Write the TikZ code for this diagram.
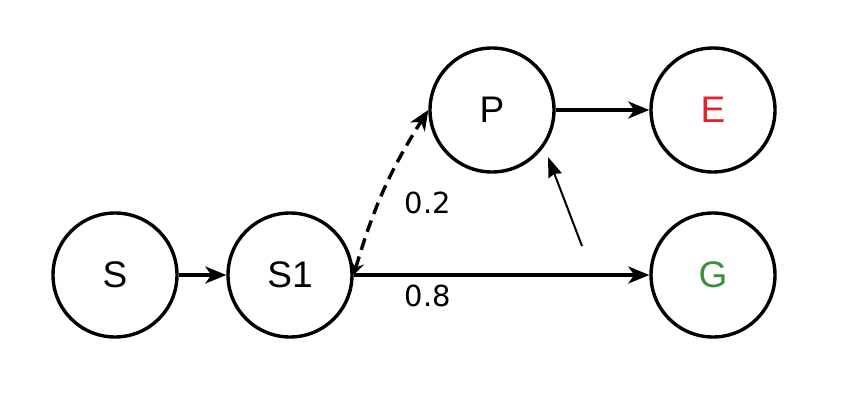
\documentclass[tikz,border=0pt]{standalone}
\usepackage{fontspec}
\setmainfont{Liberation Sans}
\newfontfamily\lblfont{DejaVu Sans}
\usetikzlibrary{arrows.meta}
\definecolor{ered}{HTML}{E4222A}
\definecolor{ggreen}{HTML}{3A8F40}
\begin{document}
\begin{tikzpicture}[x=1pt,y=-1pt,
  state/.style={circle,draw,line width=3.4pt,minimum size=124pt,inner sep=0pt,font=\fontsize{37}{40}\selectfont},
  conn/.style={line width=3.4pt,-{Stealth[length=21pt,width=17pt,inset=6pt]}},
  lbl/.style={font=\lblfont\fontsize{29}{32}\selectfont}]
\useasboundingbox (0,0) rectangle (860,402);
\node[state] (S) at (115,275) {S};
\node[state] (S1) at (290,275) {S1};
\node[state] (P) at (492,110) {P};
\node[state] (E) at (713,110) {\textcolor{ered}{E}};
\node[state] (G) at (713,275) {\textcolor{ggreen}{G}};
\draw[conn] (S) -- (S1);
\draw[conn] (P) -- (E);
\draw[conn] (S1.east) -- (G.west);
\draw[line width=3.4pt,dash pattern=on 12pt off 7pt,
  {Stealth[length=13pt,width=14pt,inset=5pt]}-{Stealth[length=20pt,width=17pt,inset=6pt]}]
  (S1.east) to[bend left=8] (P.west);
\coordinate (t) at (582,246);
\coordinate (h) at (548,157);
\draw[line width=2pt,-{Stealth[length=20pt,width=14pt,inset=2pt]}] (t) -- (h);
\node[lbl] (l2) at (428,203) {0.2};
\node[lbl] (l8) at (428,296) {0.8};
\end{tikzpicture}
\end{document}
